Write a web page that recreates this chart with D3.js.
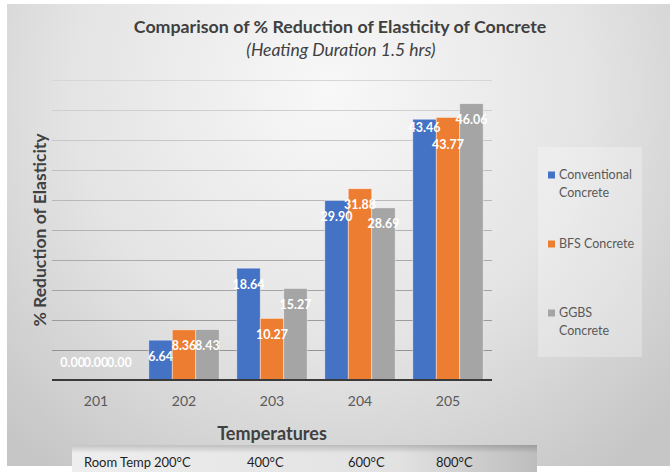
<!DOCTYPE html>
<html>
<head>
<meta charset="utf-8">
<script src="https://cdn.jsdelivr.net/npm/d3@7"></script>
<style>
  html, body { margin: 0; padding: 0; background: #ffffff; }
  svg { display: block; font-family: Lato, "Open Sans", sans-serif; }
</style>
</head>
<body>
<svg id="chart" width="670" height="472"></svg>
<script>
// Temperature groups (x categories) and the three concrete mixes
const categories = ["201", "202", "203", "204", "205"];
const seriesNames = ["Conventional Concrete", "BFS Concrete", "GGBS Concrete"];
const conventional = [0.00, 6.64, 18.64, 29.90, 43.46];
const bfs = [0.00, 8.36, 10.27, 31.88, 43.77];
const ggbs = [0.00, 8.43, 15.27, 28.69, 46.06];
const yTicks = [0, 5, 10, 15, 20, 25, 30, 35, 40, 45, 50];
const tempLabels = ["Room Temp", "200°C", "400°C", "600°C", "800°C"];

const seriesValues = [conventional, bfs, ggbs];
const colors = ["#4472C4", "#ED7D31", "#A5A5A5"];

const svg = d3.select("#chart");
const defs = svg.append("defs");

// background panel with soft radial shading
const bg = defs.append("radialGradient").attr("id", "bgGrad")
  .attr("gradientUnits", "userSpaceOnUse")
  .attr("cx", 330).attr("cy", 90).attr("r", 470);
bg.append("stop").attr("offset", "0%").attr("stop-color", "#f8f8f8");
bg.append("stop").attr("offset", "55%").attr("stop-color", "#e4e4e4");
bg.append("stop").attr("offset", "100%").attr("stop-color", "#c6c6c6");

const bandGrad = defs.append("linearGradient").attr("id", "bandGrad")
  .attr("x1", 0).attr("x2", 1).attr("y1", 0).attr("y2", 0);
bandGrad.append("stop").attr("offset", "0%").attr("stop-color", "#eeeeee");
bandGrad.append("stop").attr("offset", "70%").attr("stop-color", "#e2e2e2");
bandGrad.append("stop").attr("offset", "100%").attr("stop-color", "#bdbdbd");

const bandShade = defs.append("linearGradient").attr("id", "bandShade")
  .attr("x1", 0).attr("x2", 0).attr("y1", 0).attr("y2", 1);
bandShade.append("stop").attr("offset", "0%").attr("stop-color", "#000").attr("stop-opacity", 0.18);
bandShade.append("stop").attr("offset", "30%").attr("stop-color", "#000").attr("stop-opacity", 0.0);

svg.append("rect").attr("x", 7).attr("y", 4).attr("width", 663).attr("height", 462)
  .attr("fill", "url(#bgGrad)");

// plot area
const plot = { left: 52, right: 492, top: 80, bottom: 380 };
const x = d3.scaleBand().domain(categories)
  .range([plot.left, plot.right]).paddingInner(0.2).paddingOuter(0.1);
const xs = d3.scaleBand().domain(seriesNames).range([0, x.bandwidth()]).padding(0);
const y = d3.scaleLinear().domain([0, 50]).range([plot.bottom, plot.top]);

// horizontal gridlines, fading towards the top
const gridColor = d3.scaleLinear().domain([0, 50]).range(["#8e8e8e", "#d6d6d6"]);
svg.append("g").selectAll("line").data(yTicks.filter(t => t > 0)).join("line")
  .attr("x1", plot.left).attr("x2", plot.right)
  .attr("y1", d => Math.round(y(d)) + 0.5).attr("y2", d => Math.round(y(d)) + 0.5)
  .attr("stroke", d => gridColor(d)).attr("stroke-width", 1);

// bars
const rows = categories.map((c, i) => ({
  cat: c,
  items: seriesNames.map((s, j) => ({ cat: c, series: s, idx: j, value: seriesValues[j][i] }))
}));

const groups = svg.append("g").selectAll("g").data(rows).join("g")
  .attr("transform", d => `translate(${x(d.cat)},0)`);

groups.selectAll("rect").data(d => d.items).join("rect")
  .attr("x", d => xs(d.series))
  .attr("width", xs.bandwidth())
  .attr("y", d => y(d.value))
  .attr("height", d => y(0) - y(d.value))
  .attr("fill", d => colors[d.idx])
  .attr("stroke", "rgba(255,255,255,0.55)")
  .attr("stroke-width", 0.8);

// baseline axis
const xAxis = d3.axisBottom(x).tickSize(0).tickPadding(16);
const axisG = svg.append("g").attr("transform", `translate(0,${plot.bottom})`).call(xAxis);
axisG.select(".domain").attr("stroke", "#3a3a3a").attr("stroke-width", 2)
  .attr("d", `M${plot.left},0H${plot.right}`);
axisG.selectAll(".tick text")
  .attr("font-family", "Lato, sans-serif").attr("font-size", 14).attr("fill", "#595959");

// data labels (inside end; zero bars sit just above the axis)
const nudge = { "205|Conventional Concrete": -8, "205|BFS Concrete": 11 };
groups.selectAll("text.val").data(d => d.items).join("text")
  .attr("class", "val")
  .attr("x", d => xs(d.series) + xs.bandwidth() / 2)
  .attr("y", d => {
    const top = y(d.value);
    const base = (y(0) - top) < 20 ? top - 17 : top + 16;
    return base + (nudge[d.cat + "|" + d.series] || 0);
  })
  .attr("dy", "0.35em")
  .attr("text-anchor", "middle")
  .attr("font-size", 12.5).attr("font-weight", 700)
  .attr("fill", "#ffffff")
  .text(d => d.value.toFixed(2));

// titles
svg.append("text").attr("x", 340).attr("y", 33).attr("text-anchor", "middle")
  .attr("font-size", 17.8).attr("font-weight", 700).attr("fill", "#404040")
  .text("Comparison of % Reduction of Elasticity of Concrete");
svg.append("text").attr("x", 341).attr("y", 56).attr("text-anchor", "middle")
  .attr("font-size", 17.5).attr("font-style", "italic").attr("fill", "#404040")
  .text("(Heating Duration 1.5 hrs)");

svg.append("text")
  .attr("transform", `translate(46,${(plot.top + plot.bottom) / 2}) rotate(-90)`)
  .attr("text-anchor", "middle")
  .attr("font-size", 17.5).attr("font-weight", 700).attr("fill", "#404040")
  .text("% Reduction of Elasticity");

svg.append("text").attr("x", (plot.left + plot.right) / 2).attr("y", 440)
  .attr("text-anchor", "middle")
  .attr("font-size", 18).attr("font-weight", 700).attr("fill", "#404040")
  .text("Temperatures");

// legend
const legend = svg.append("g");
legend.append("rect").attr("x", 538).attr("y", 147).attr("width", 104).attr("height", 210)
  .attr("fill", "rgba(255,255,255,0.28)");
const legendRows = [
  { lines: ["Conventional", "Concrete"], y: 175 },
  { lines: ["BFS Concrete"], y: 244 },
  { lines: ["GGBS", "Concrete"], y: 313 }
];
legendRows.forEach((r, i) => {
  legend.append("rect").attr("x", 548).attr("y", r.y - 3.5).attr("width", 7).attr("height", 7)
    .attr("fill", colors[i]);
  r.lines.forEach((t, k) => {
    legend.append("text").attr("x", 559).attr("y", r.y + k * 17.5).attr("dy", "0.35em")
      .attr("font-size", 12.5).attr("fill", "#595959").text(t);
  });
});

// temperature key strip beneath the chart
svg.append("rect").attr("x", 72).attr("y", 445).attr("width", 465).attr("height", 27)
  .attr("fill", "url(#bandGrad)");
svg.append("rect").attr("x", 72).attr("y", 445).attr("width", 465).attr("height", 27)
  .attr("fill", "url(#bandShade)");
const keyX = [84, 154, 247, 348, 436];
svg.append("g").selectAll("text").data(tempLabels).join("text")
  .attr("x", (d, i) => keyX[i]).attr("y", 467)
  .attr("font-size", 13).attr("fill", "#1e1e1e")
  .text(d => d);
</script>
</body>
</html>
